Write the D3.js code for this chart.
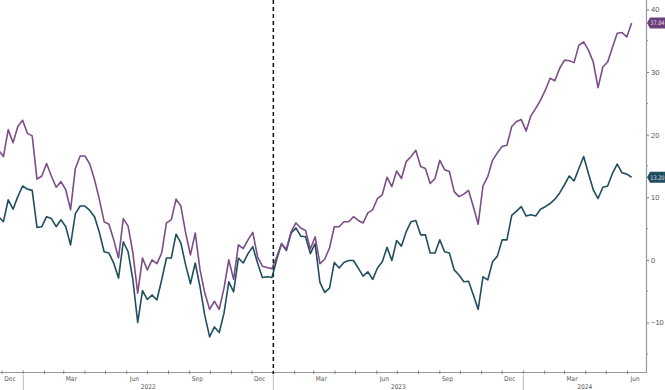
<!DOCTYPE html>
<html>
<head>
<meta charset="utf-8">
<script src="https://cdnjs.cloudflare.com/ajax/libs/d3/7.8.5/d3.min.js"></script>
<style>
    body { margin: 0; background: #fff; }
    svg { display: block; font-family: 'DejaVu Sans Condensed', 'Liberation Sans', sans-serif; }
</style>
</head>
<body>
<div id="chart"></div>
<script>
// weekly observations, first one on this date
var start_date = new Date(2021, 10, 26);

var purple_values = [
    17.5, 16.5, 20.8, 18.7, 21.3, 22.3, 20.2, 19.8, 12.9, 13.4,
    15.4, 13.4, 11.6, 12.5, 11.2, 8.0, 14.6, 16.6, 16.6, 15.3,
    12.8, 9.7, 6.1, 5.7, 3.2, 0.3, 6.6, 5.4, 1.1, -5.3,
    0.3, -1.6, 0.0, -0.6, 1.1, 5.9, 6.4, 9.7, 8.6, 4.3,
    0.8, 4.3, -1.6, -5.3, -7.9, -6.6, -7.9, -4.5, 0.0, -3.1,
    2.4, 1.8, 3.2, 4.4, 0.5, -1.0, -1.2, -1.4, 0.5, 2.6,
    1.7, 4.5, 5.9, 5.1, 4.7, 1.7, 3.7, -0.6, 0.1, 1.9,
    5.3, 5.3, 6.1, 6.1, 6.9, 6.3, 5.9, 7.5, 8.0, 9.8,
    10.4, 13.2, 11.7, 14.2, 13.0, 15.7, 16.5, 17.5, 14.9, 14.6,
    12.2, 13.0, 15.9, 14.4, 14.1, 10.9, 10.1, 10.5, 11.1, 8.5,
    5.7, 11.8, 13.3, 15.9, 17.1, 18.1, 18.3, 21.3, 22.1, 22.4,
    20.6, 23.0, 24.2, 25.5, 27.1, 29.0, 28.6, 30.6, 31.9, 31.8,
    31.5, 34.3, 34.8, 33.5, 31.6, 27.5, 30.8, 31.6, 33.9, 36.2,
    36.3, 35.6, 37.84
];

var teal_values = [
    6.9, 6.1, 9.6, 8.1, 10.1, 11.8, 11.3, 11.1, 5.2, 5.3,
    6.9, 6.6, 5.3, 6.4, 5.3, 2.4, 7.4, 8.6, 8.6, 7.9,
    6.9, 4.4, 1.3, 1.1, -0.5, -2.9, 2.9, 1.3, -3.2, -10.0,
    -4.9, -6.3, -5.6, -6.4, -3.2, 0.3, 0.3, 4.1, 2.7, -0.8,
    -3.8, -0.5, -4.3, -8.9, -12.3, -10.7, -11.6, -8.5, -3.5, -5.1,
    0.3, -0.5, 1.0, 2.1, -0.5, -2.8, -2.7, -2.8, 0.1, 2.6,
    1.5, 4.3, 5.1, 3.8, 3.7, 1.0, 2.6, -3.6, -5.2, -4.5,
    -0.4, -1.3, -0.4, -0.1, -0.1, -1.3, -2.6, -1.9, -3.1, -1.3,
    -0.3, 2.0, -0.1, 3.1, 2.2, 4.5, 6.1, 6.3, 4.0, 4.0,
    1.1, 1.1, 3.2, 1.3, 1.1, -1.6, -2.4, -3.5, -3.4, -5.6,
    -7.9, -2.7, -3.2, -0.3, 0.6, 3.2, 3.2, 7.1, 7.8, 8.5,
    7.0, 7.2, 7.0, 8.1, 8.5, 9.0, 9.7, 10.7, 12.0, 13.4,
    12.6, 14.6, 16.5, 13.8, 11.2, 9.8, 11.6, 11.8, 13.8, 15.3,
    13.9, 13.7, 13.20
];

var y_major_ticks = [-10, 0, 10, 20, 30, 40];
var y_minor_ticks = [-15, -5, 5, 15, 25, 35];
var month_names = {11: 'Dec', 2: 'Mar', 5: 'Jun', 8: 'Sep'};
var years = [2022, 2023, 2024];
var marker_date = new Date(2023, 0, 1);

var purple = '#7b4d89';
var teal = '#1f4f5e';

draw_chart();

function draw_chart() {
    var width = 665;
    var height = 390;
    var plot_right = 646;
    var plot_bottom = 372;

    var svg = d3.select('#chart')
        .append('svg')
        .attr('width', width)
        .attr('height', height);

    var x_start = new Date(2021, 10, 28);
    var x_end = new Date(2024, 5, 28);

    var x = d3.scaleTime()
        .domain([x_start, x_end])
        .range([0, plot_right]);

    var y = d3.scaleLinear()
        .domain([-17.9, 41.5])
        .range([plot_bottom, 0]);

    var dates = purple_values.map(function(d, i) {
        return d3.timeDay.offset(start_date, i * 7);
    });

    // right axis
    var y_axis = svg.append('g')
        .attr('transform', 'translate(' + plot_right + ',0)')
        .call(d3.axisRight(y).tickValues(y_major_ticks).tickSize(3).tickPadding(2)
            .tickFormat(d3.format('d')));
    y_axis.select('.domain').remove();
    y_axis.selectAll('line').attr('stroke', '#777');
    y_axis.selectAll('text')
        .attr('font-size', '7.5px')
        .attr('fill', '#555');

    svg.append('g')
        .selectAll('line')
        .data(y_minor_ticks)
        .enter()
        .append('line')
        .attr('x1', plot_right)
        .attr('x2', plot_right + 2)
        .attr('y1', function(d) { return y(d); })
        .attr('y2', function(d) { return y(d); })
        .attr('stroke', '#888');

    svg.append('line')
        .attr('x1', plot_right + 0.5)
        .attr('x2', plot_right + 0.5)
        .attr('y1', 0)
        .attr('y2', plot_bottom)
        .attr('stroke', '#999')
        .attr('stroke-width', 1.2);

    // bottom axis
    svg.append('line')
        .attr('x1', 0)
        .attr('x2', plot_right + 1)
        .attr('y1', plot_bottom + 0.5)
        .attr('y2', plot_bottom + 0.5)
        .attr('stroke', '#999')
        .attr('stroke-width', 1.2);

    var months = d3.timeMonth.range(x_start, x_end);
    svg.append('g')
        .selectAll('line')
        .data(months)
        .enter()
        .append('line')
        .attr('x1', function(d) { return x(d); })
        .attr('x2', function(d) { return x(d); })
        .attr('y1', plot_bottom - 1.5)
        .attr('y2', plot_bottom + 2)
        .attr('stroke', '#888');

    var month_labels = d3.timeMonth.range(d3.timeMonth.offset(x_start, -1), x_end)
        .filter(function(d) { return month_names[d.getMonth()] !== undefined; });
    svg.append('g')
        .selectAll('text')
        .data(month_labels)
        .enter()
        .append('text')
        .attr('x', function(d) {
            var mid = d3.timeDay.offset(d, 14);
            return Math.max(10, x(mid) - 2);
        })
        .attr('y', plot_bottom + 9)
        .attr('text-anchor', 'middle')
        .attr('font-size', '6.5px')
        .attr('fill', '#555')
        .text(function(d) { return month_names[d.getMonth()]; });

    // year separators and labels
    svg.append('g')
        .selectAll('line')
        .data(years)
        .enter()
        .append('line')
        .attr('x1', function(d) { return x(new Date(d, 0, 1)); })
        .attr('x2', function(d) { return x(new Date(d, 0, 1)); })
        .attr('y1', plot_bottom + 3)
        .attr('y2', height)
        .attr('stroke', '#aaa')
        .attr('stroke-width', 0.8);

    svg.append('g')
        .selectAll('text')
        .data(years)
        .enter()
        .append('text')
        .attr('x', function(d) {
            var a = Math.max(0, x(new Date(d, 0, 1)));
            var b = Math.min(plot_right, x(new Date(d + 1, 0, 1)));
            return (a + b) / 2;
        })
        .attr('y', plot_bottom + 16.5)
        .attr('text-anchor', 'middle')
        .attr('font-size', '6.5px')
        .attr('fill', '#555')
        .text(function(d) { return d; });

    // dashed marker
    svg.append('line')
        .attr('x1', x(marker_date))
        .attr('x2', x(marker_date))
        .attr('y1', 0)
        .attr('y2', plot_bottom + 2)
        .attr('stroke', '#111')
        .attr('stroke-width', 1.5)
        .attr('stroke-dasharray', '4,3');

    // lines
    var line = d3.line()
        .x(function(d, i) { return x(dates[i]); })
        .y(function(d) { return y(d); });

    svg.append('path')
        .datum(teal_values)
        .attr('d', line)
        .attr('fill', 'none')
        .attr('stroke', teal)
        .attr('stroke-width', 1.6)
        .attr('stroke-linejoin', 'round');

    svg.append('path')
        .datum(purple_values)
        .attr('d', line)
        .attr('fill', 'none')
        .attr('stroke', purple)
        .attr('stroke-width', 1.6)
        .attr('stroke-linejoin', 'round');

    // last value tags
    var tags = [
        {value: purple_values[purple_values.length - 1], color: '#6a3f7a'},
        {value: teal_values[teal_values.length - 1], color: '#1f4f5e'}
    ];

    var tag = svg.selectAll('g.tag')
        .data(tags)
        .enter()
        .append('g')
        .attr('class', 'tag')
        .attr('transform', function(d) {
            return 'translate(' + (plot_right + 1) + ',' + y(d.value) + ')';
        });

    tag.append('path')
        .attr('d', 'M0,0 L3,-5.5 L18,-5.5 L18,5.5 L3,5.5 Z')
        .attr('fill', function(d) { return d.color; });

    tag.append('text')
        .attr('x', 3.3)
        .attr('y', 2.5)
        .attr('font-size', '6.2px')
        .attr('textLength', 14.2)
        .attr('lengthAdjust', 'spacingAndGlyphs')
        .attr('fill', '#e6dcef')
        .text(function(d) { return d3.format('.2f')(d.value); });
}
</script>
</body>
</html>
